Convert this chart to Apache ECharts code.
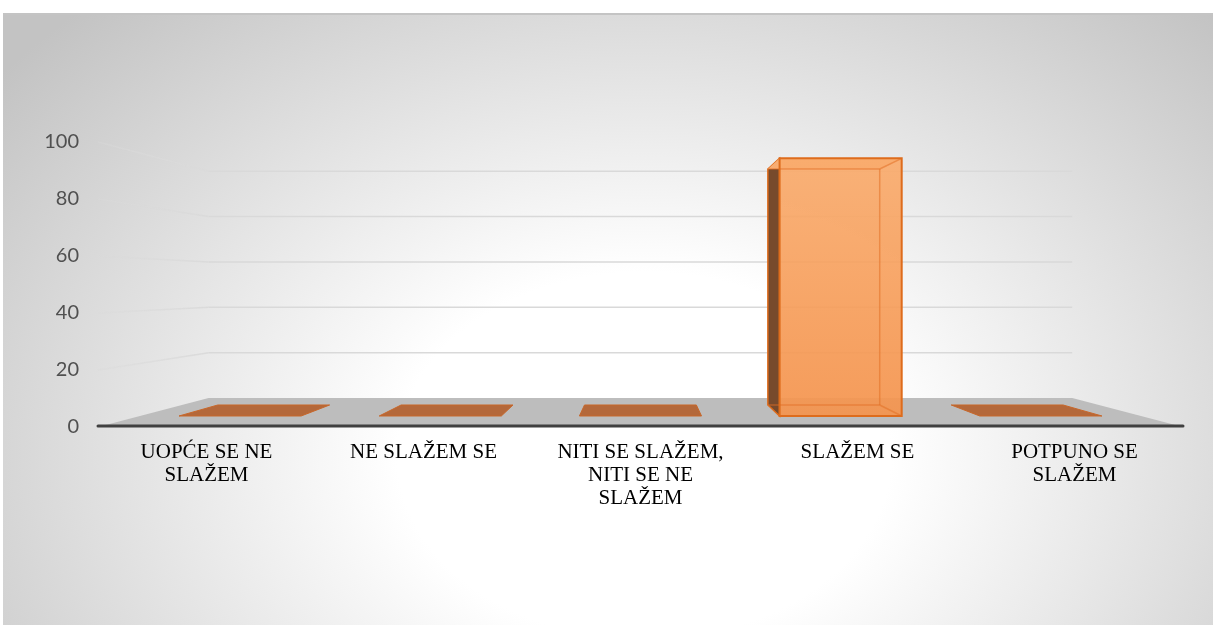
<!DOCTYPE html>
<html>
<head>
<meta charset="utf-8">
<script src="https://cdn.jsdelivr.net/npm/echarts@6/dist/echarts.min.js"></script>
<style>
  html, body { margin: 0; padding: 0; background: #fff; }
  #bg { position: absolute; left: 3px; top: 13px; width: 1210px; height: 612px; border-top: 2px solid #c4c4c4;
        background: radial-gradient(ellipse 68% 100% at 53% 72%, #ffffff 0%, #ffffff 30%, #c3c3c3 100%); }
  #chart { position: absolute; left: 0; top: 0; width: 1216px; height: 625px; }
</style>
</head>
<body>
<div id="bg"></div>
<div id="chart"></div>
<script>
  var categories = ['UOPĆE SE NE\nSLAŽEM', 'NE SLAŽEM SE', 'NITI SE SLAŽEM,\nNITI SE NE\nSLAŽEM', 'SLAŽEM SE', 'POTPUNO SE\nSLAŽEM'];
  var values = [0, 0, 0, 98, 0];
  var yTicks = [0, 20, 40, 60, 80, 100];

  // fake 3D: the grid is the front plane, deeper planes shrink toward a vanishing point
  var VX = 640, VY = 285;
  var S_BACK = 0.796, S_BAR_FRONT = 0.9225, S_BAR_BACK = 0.845;
  function proj(p, s) {
    return [VX + (p[0] - VX) * s, VY + (p[1] - VY) * s];
  }

  var myChart = echarts.init(document.getElementById('chart'));

  function renderWalls(params, api) {
    var v = api.value(1);
    var band = api.size([1, 0])[0];
    var xl = api.coord([0, v])[0] - band / 2;
    var xr = api.coord([categories.length - 1, v])[0] + band / 2;
    var y = api.coord([0, v])[1];
    var fl = [xl, y], fr = [xr, y];
    var bl = proj(fl, S_BACK), br = proj(fr, S_BACK);
    if (v === 0) {
      // floor + front edge
      return {
        type: 'group',
        children: [
          { type: 'polygon', shape: { points: [fl, fr, br, bl] }, style: { fill: '#bdbdbd' } },
          { type: 'line', shape: { x1: xl, y1: y - 1, x2: xr, y2: y - 1 },
            style: { stroke: '#404040', lineWidth: 3, lineCap: 'round' } }
        ]
      };
    }
    return {
      type: 'group',
      children: [
        { type: 'line', shape: { x1: bl[0], y1: bl[1], x2: br[0], y2: br[1] },
          style: { stroke: '#d9d9d9', lineWidth: 1.5 } },
        { type: 'line', shape: { x1: fl[0], y1: fl[1], x2: bl[0], y2: bl[1] },
          style: {
            lineWidth: 1.5,
            stroke: new echarts.graphic.LinearGradient(fl[0], fl[1], bl[0], bl[1], [
              { offset: 0, color: 'rgba(218,218,218,0.35)' },
              { offset: 1, color: 'rgba(218,218,218,1)' }
            ], true)
          } }
      ]
    };
  }

  function renderBar(params, api) {
    var i = api.value(0), v = api.value(1);
    var band = api.size([1, 0])[0];
    var w = band * 0.61;
    var c0 = api.coord([i, 0]), c1 = api.coord([i, v]);
    var xl = c0[0] - w / 2, xr = c0[0] + w / 2, yb = c0[1], yt = c1[1];
    var fTL = proj([xl, yt], S_BAR_FRONT), fTR = proj([xr, yt], S_BAR_FRONT);
    var fBL = proj([xl, yb], S_BAR_FRONT), fBR = proj([xr, yb], S_BAR_FRONT);
    var bTL = proj([xl, yt], S_BAR_BACK), bTR = proj([xr, yt], S_BAR_BACK);
    var bBL = proj([xl, yb], S_BAR_BACK), bBR = proj([xr, yb], S_BAR_BACK);

    if (yb - yt < 1) {
      return {
        type: 'polygon',
        shape: { points: [fBL, fBR, bBR, bBL] },
        style: { fill: '#b4683a', stroke: '#c8672a', lineWidth: 1 }
      };
    }
    var edge = '#de6c1c';
    var inner = 'rgba(226,112,36,0.55)';
    var side = c0[0] > VX ? [fTL, bTL, bBL, fBL] : [fTR, bTR, bBR, fBR];
    function ln(a, b, col, lw) {
      return { type: 'line', shape: { x1: a[0], y1: a[1], x2: b[0], y2: b[1] }, style: { stroke: col, lineWidth: lw } };
    }
    return {
      type: 'group',
      children: [
        { type: 'polygon', shape: { points: side }, style: { fill: '#774a2c', stroke: edge, lineWidth: 1.5 } },
        { type: 'polygon', shape: { points: [fTL, fTR, bTR, bTL] }, style: { fill: '#f8ad72' } },
        { type: 'polygon', shape: { points: [fTL, fTR, fBR, fBL] },
          style: {
            opacity: 0.93,
            fill: new echarts.graphic.LinearGradient(0, 0, 0, 1, [
              { offset: 0, color: '#f9ac6e' },
              { offset: 1, color: '#f4944e' }
            ])
          } },
        ln(bTL, bTR, inner, 1.5), ln(bTR, bBR, inner, 1.5), ln(bBL, bBR, inner, 1.5),
        ln(fTR, bTR, inner, 1.5), ln(fBR, bBR, inner, 1.5),
        { type: 'polygon', shape: { points: [fTL, fTR, fBR, fBL] },
          style: { fill: 'none', stroke: edge, lineWidth: 2 } }
      ]
    };
  }

  var option = {
    animation: false,
    grid: { left: 98, right: 33, top: 142, bottom: 198, outerBoundsMode: 'none' },
    xAxis: {
      type: 'category',
      data: categories,
      axisLine: { show: false },
      axisTick: { show: false },
      axisLabel: {
        interval: 0,
        margin: 14,
        color: '#000',
        fontFamily: 'Liberation Serif',
        fontSize: 21,
        lineHeight: 23
      }
    },
    yAxis: {
      type: 'value',
      min: 0,
      max: 100,
      interval: 20,
      splitLine: { show: false },
      axisLine: { show: false },
      axisTick: { show: false },
      axisLabel: { color: '#505050', fontFamily: 'Lato', fontSize: 20, margin: 19 }
    },
    series: [
      {
        type: 'custom',
        z: 1,
        renderItem: renderWalls,
        data: yTicks.map(function (t) { return [0, t]; })
      },
      {
        type: 'custom',
        z: 3,
        renderItem: renderBar,
        data: values.map(function (v, i) { return [i, v]; })
      }
    ]
  };

  myChart.setOption(option);
</script>
</body>
</html>
